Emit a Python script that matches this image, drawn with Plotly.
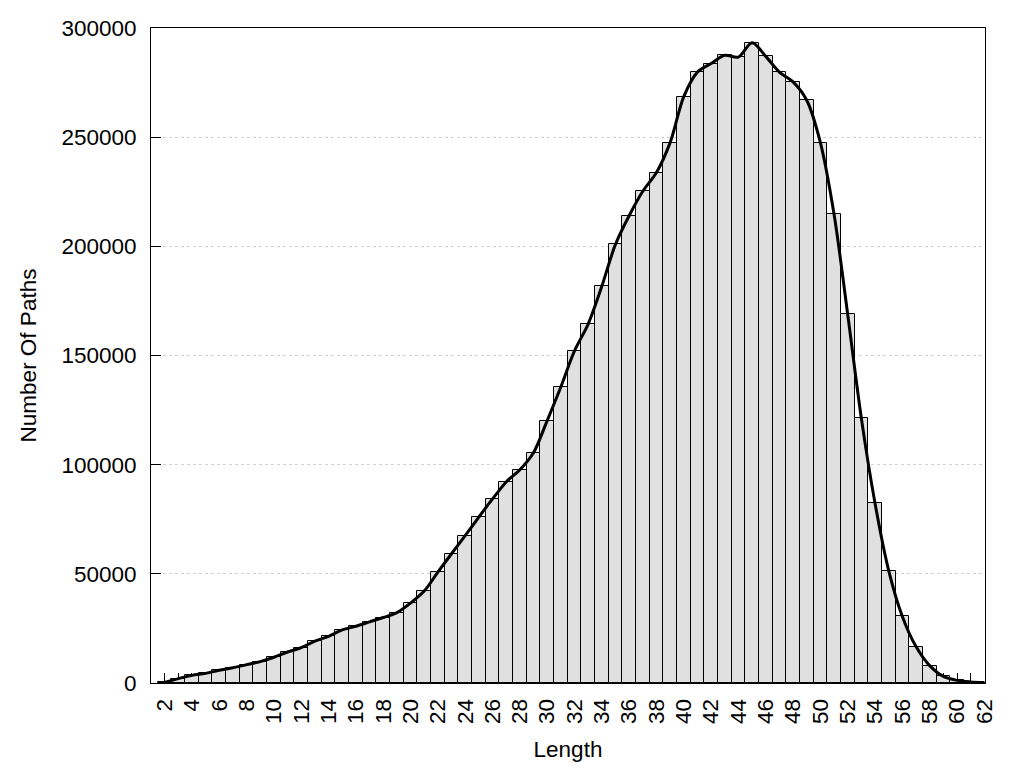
import plotly.graph_objects as go

lengths = list(range(2, 63))
paths = [300, 2000, 3500, 4400, 5800, 7000, 8400, 9800, 11800, 14200,
         16200, 19200, 21400, 24300, 26000, 28000, 30000, 32200, 36600, 42100,
         50800, 59200, 67500, 76000, 84300, 92100, 97700, 105500, 120200, 135600,
         152100, 164400, 181700, 200900, 214000, 225200, 233800, 247500, 268600, 279800,
         283700, 287500, 286700, 293300, 287000, 279800, 275300, 266900, 247500, 214700,
         168800, 121200, 82300, 51500, 30500, 16700, 7950, 3000, 1200, 500, 200]

tick_vals = list(range(1, 63))
tick_text = [str(v) if v % 2 == 0 else "" for v in tick_vals]
y_ticks = [0, 50000, 100000, 150000, 200000, 250000, 300000]

font = dict(family="Liberation Sans, Arial, sans-serif", size=22.5, color="black")

fig = go.Figure()
fig.add_trace(go.Bar(
    x=lengths, y=paths, width=1.0,
    marker=dict(color="#e0e0e0", line=dict(color="black", width=1)),
    showlegend=False, hoverinfo="x+y",
))
fig.add_trace(go.Scatter(
    x=lengths, y=paths, mode="lines",
    line=dict(color="black", width=3, shape="spline", smoothing=0.9),
    showlegend=False,
))

fig.update_layout(
    width=1024, height=768,
    margin=dict(l=143, r=47, t=20, b=93),
    paper_bgcolor="white", plot_bgcolor="white",
    font=font, bargap=0,
    xaxis=dict(
        range=[1, 62.05], tickmode="array", tickvals=tick_vals, ticktext=tick_text,
        tickangle=-90, ticks="inside", ticklen=10, tickcolor="black", tickwidth=1,
        showline=True, linecolor="black", linewidth=1, mirror=True,
        showgrid=False, zeroline=False, layer="below traces", automargin=False,
        title=dict(text="Length", font=font, standoff=18),
        ticklabelstandoff=6,
    ),
    yaxis=dict(
        range=[0, 300000], tickmode="array", tickvals=y_ticks,
        ticktext=[str(v) for v in y_ticks],
        ticks="inside", ticklen=10, tickcolor="black", tickwidth=1,
        showline=True, linecolor="black", linewidth=1, mirror=True,
        showgrid=True, gridcolor="#d0d0d0", griddash="dot", gridwidth=1,
        zeroline=False, layer="below traces", automargin=False,
        title=dict(text="Number Of Paths", font=font, standoff=18),
        ticklabelstandoff=9,
    ),
)

fig.write_html("out.html")
